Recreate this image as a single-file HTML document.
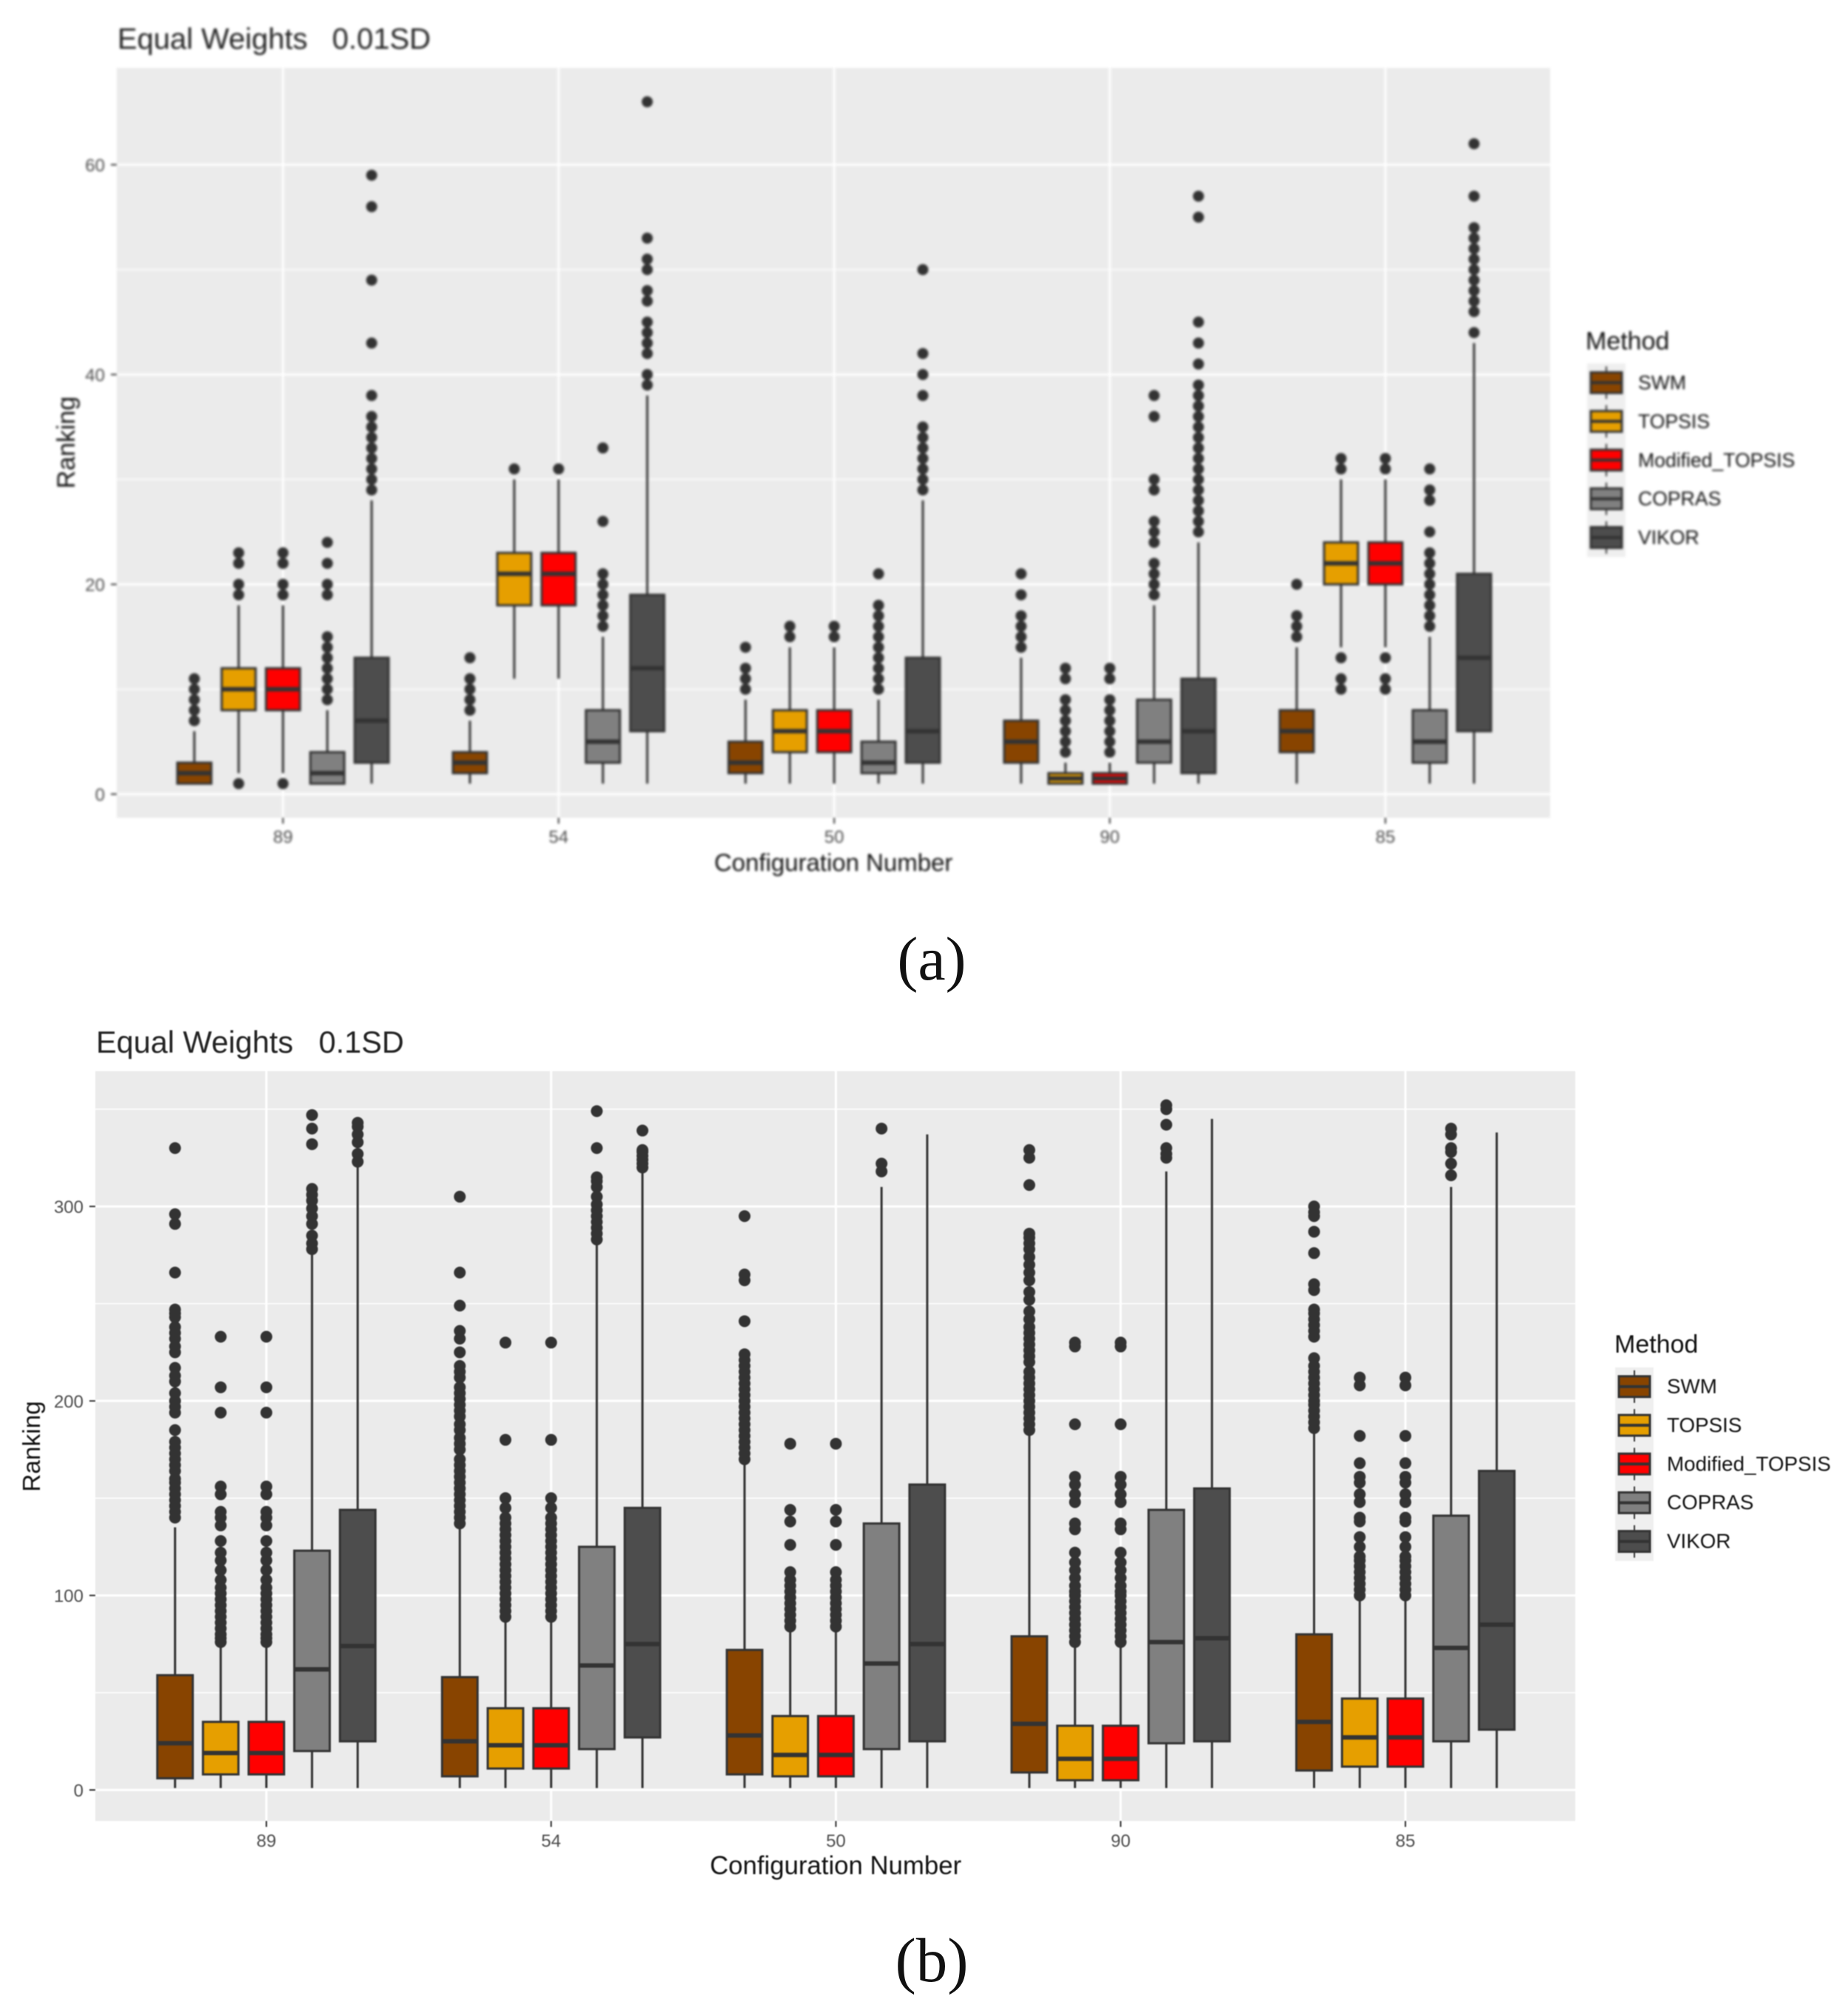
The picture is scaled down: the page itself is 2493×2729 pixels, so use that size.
<!DOCTYPE html>
<html lang="en">
<head>
<meta charset="utf-8">
<title>Equal Weights ranking boxplots</title>
<style>
html,body{margin:0;padding:0;background:#fff;}
body{width:2493px;height:2729px;overflow:hidden;}
svg{display:block;position:absolute;left:0;top:0;}
text{font-family:"Liberation Sans",sans-serif;white-space:pre;}
#chart-a-group{filter:blur(1.5px);}
#chart-b-group{filter:blur(0.9px);}
</style>
</head>
<body>
<svg id="figure" width="2493" height="2729" viewBox="0 0 2493 2729" xmlns="http://www.w3.org/2000/svg">
  <rect x="0" y="0" width="2493" height="2729" fill="#ffffff"/>
  <g id="chart-a-group"></g>
  <g id="chart-b-group"></g>
  <text x="1261" y="1326" text-anchor="middle" style="font-family:'Liberation Serif',serif;font-size:84px;fill:#111">(a)</text>
  <text x="1261" y="2682" text-anchor="middle" style="font-family:'Liberation Serif',serif;font-size:85px;fill:#111">(b)</text>
</svg>
<script>
const categories = ['89','54','50','90','85'];
const methods = ['SWM','TOPSIS','Modified_TOPSIS','COPRAS','VIKOR'];
const methodColors = ['#884400','#E69F00','#FF0000','#808080','#4D4D4D'];

/* Chart (a) Equal Weights 0.01SD — rows: configuration, columns: method */
const majorTicksA = [0,20,40,60];
const minorTicksA = [10,30,50];
const q1A  = [[1,8,8,1,3],[2,18,18,3,6],[2,4,4,2,3],[3,1,1,3,2],[4,20,20,3,6]];
const medA = [[2,10,10,2,7],[3,21,21,5,12],[3,6,6,3,6],[5,1.5,1.5,5,6],[6,22,22,5,13]];
const q3A  = [[3,12,12,4,13],[4,23,23,8,19],[5,8,8,5,13],[7,2,2,9,11],[8,24,24,8,21]];
const loA  = [[1,2,2,1,1],[1,11,11,1,1],[1,1,1,1,1],[1,1,1,1,1],[1,14,14,1,1]];
const hiA  = [[6,18,18,8,28],[7,30,30,15,38],[9,14,14,9,28],[13,3,3,18,24],[14,30,30,15,43]];
const outA = [
  [[7,8,9,10,11],[1,19,20,22,23],[1,19,20,22,23],[9,10,11,12,13,14,15,19,20,22,24],[29,30,31,32,33,34,35,36,38,43,49,56,59]],
  [[8,9,10,11,13],[31],[31],[16,17,18,19,20,21,26,33],[39,40,42,43,44,45,47,48,50,51,53,66]],
  [[10,11,12,14],[15,16],[15,16],[10,11,12,13,14,15,16,17,18,21],[29,30,31,32,33,34,35,38,40,42,50]],
  [[14,15,16,17,19,21],[4,5,6,7,8,9,11,12],[4,5,6,7,8,9,11,12],[19,20,21,22,24,25,26,29,30,36,38],[25,26,27,28,29,30,31,32,33,34,35,36,37,38,39,41,43,45,55,57]],
  [[15,16,17,20],[10,11,13,31,32],[10,11,13,31,32],[16,17,18,19,20,21,22,23,25,28,29,31],[44,46,47,48,49,50,51,52,53,54,57,62]]
];

/* Chart (b) Equal Weights 0.1SD */
const majorTicksB = [0,100,200,300];
const minorTicksB = [50,150,250,350];
const q1B  = [[6,8,8,20,25],[7,11,11,21,27],[8,7,7,21,25],[9,5,5,24,25],[10,12,12,25,31]];
const medB = [[24,19,19,62,74],[25,23,23,64,75],[28,18,18,65,75],[34,16,16,76,78],[35,27,27,73,85]];
const q3B  = [[59,35,35,123,144],[58,42,42,125,145],[72,38,38,137,157],[79,33,33,144,155],[80,47,47,141,164]];
const loB  = [[1,1,1,1,1],[1,1,1,1,1],[1,1,1,1,1],[1,1,1,1,1],[1,1,1,1,1]];
const hiB  = [[135,75,75,275,320],[135,88,88,281,318],[168,83,83,310,337],[183,75,75,318,345],[184,98,98,310,338]];
const outB = [
  [[140,143,146,149,152,155,158,160,164,167,170,173,176,179,185,194,197,200,204,210,213,217,225,228,232,235,238,243,245,247,266,291,296,330],
   [76,78,80,83,86,89,92,95,98,101,104,108,113,118,122,128,136,140,143,152,156,194,207,233],
   [76,78,80,83,86,89,92,95,98,101,104,108,113,118,122,128,136,140,143,152,156,194,207,233],
   [278,281,285,291,295,299,303,306,309,332,340,347],
   [323,327,333,337,341,343]],
  [[137,140,143,146,149,152,155,158,161,164,167,170,175,178,181,185,188,192,195,198,201,204,207,212,215,218,225,232,236,249,266,305],
   [89,92,95,98,101,104,107,110,113,116,119,122,125,128,131,134,137,140,145,150,180,230],
   [89,92,95,98,101,104,107,110,113,116,119,122,125,128,131,134,137,140,145,150,180,230],
   [283,286,289,292,295,298,301,305,310,313,315,330,349],
   [320,322,324,326,328,329,339]],
  [[170,173,176,179,182,185,188,191,194,197,200,203,206,209,212,215,218,221,224,241,262,265,295],
   [84,87,90,93,96,99,102,105,108,112,126,138,144,178],
   [84,87,90,93,96,99,102,105,108,112,126,138,144,178],
   [318,322,340],
   []],
  [[185,188,191,194,197,200,203,206,209,212,215,220,223,226,229,232,235,238,242,246,252,256,262,266,270,274,278,281,284,286,311,325,329],
   [76,79,82,85,88,91,94,97,100,102,105,109,113,117,122,134,137,148,152,157,161,188,228,230],
   [76,79,82,85,88,91,94,97,100,102,105,109,113,117,122,134,137,148,152,157,161,188,228,230],
   [325,327,330,342,350,352],
   []],
  [[186,189,192,195,198,200,203,206,209,212,215,218,222,233,236,239,242,245,247,257,260,276,287,295,297,300],
   [100,103,106,109,112,115,118,120,125,130,138,140,148,152,158,161,168,182,208,212],
   [100,103,106,109,112,115,118,120,125,130,138,140,148,152,158,161,168,182,208,212],
   [316,322,328,330,337,340],
   []]
];

const SVGNS = 'http://www.w3.org/2000/svg';
function el(parent, tag, attrs, txt) {
  const e = document.createElementNS(SVGNS, tag);
  for (const k in attrs) e.setAttribute(k, attrs[k]);
  if (txt !== undefined) e.textContent = txt;
  parent.appendChild(e);
  return e;
}

function drawChart(root, L, title, major, minor, q1, med, q3, lo, hi, out) {
  const yScale = v => L.y0 - v * L.yUnit;
  const xCat = i => L.xFirst + i * L.xStep;
  const xBox = (i, m) => xCat(i) + (m - 2) * L.dodge;

  const titleEl = el(root, 'text', {x: L.titleX, y: L.titleY, 'font-size': L.titleSize, fill: '#222'}, title);
  
  

  const panel = el(root, 'rect', {x: L.left, y: L.top, width: L.right - L.left, height: L.bottom - L.top, fill: '#EBEBEB'});
  
  

  minor.forEach(v => {
    const g = el(root, 'line', {x1: L.left, x2: L.right, y1: yScale(v), y2: yScale(v), stroke: '#fff', 'stroke-width': 1.6});
    
    
  });
  major.forEach(v => {
    const g = el(root, 'line', {x1: L.left, x2: L.right, y1: yScale(v), y2: yScale(v), stroke: '#fff', 'stroke-width': 3});
    
    
    const t = el(root, 'line', {x1: L.left - 8, x2: L.left, y1: yScale(v), y2: yScale(v), stroke: '#333', 'stroke-width': 2});
    
    
    const lab = el(root, 'text', {x: L.left - 16, y: yScale(v) + 9, 'text-anchor': 'end', 'font-size': 24, fill: '#4D4D4D'}, String(v));
    
    
  });
  categories.forEach((c, i) => {
    const g = el(root, 'line', {x1: xCat(i), x2: xCat(i), y1: L.top, y2: L.bottom, stroke: '#fff', 'stroke-width': 3});
    
    
    const t = el(root, 'line', {x1: xCat(i), x2: xCat(i), y1: L.bottom, y2: L.bottom + 8, stroke: '#333', 'stroke-width': 2});
    
    
    const lab = el(root, 'text', {x: xCat(i), y: L.xLabelY, 'text-anchor': 'middle', 'font-size': 24, fill: '#4D4D4D'}, c);
    
    
  });

  categories.forEach((c, i) => {
    methods.forEach((mName, m) => {
      const g = el(root, 'g', {});
      
      
      const x = xBox(i, m);
      const w1 = el(g, 'line', {x1: x, x2: x, y1: yScale(hi[i][m]), y2: yScale(q3[i][m]), stroke: '#333', 'stroke-width': 3});
      
      
      const w2 = el(g, 'line', {x1: x, x2: x, y1: yScale(q1[i][m]), y2: yScale(lo[i][m]), stroke: '#333', 'stroke-width': 3});
      
      
      const box = el(g, 'rect', {x: x - L.boxW / 2, y: yScale(q3[i][m]), width: L.boxW, height: yScale(q1[i][m]) - yScale(q3[i][m]), fill: methodColors[m], stroke: '#333', 'stroke-width': 3});
      
      
      const md = el(g, 'line', {x1: x - L.boxW / 2, x2: x + L.boxW / 2, y1: yScale(med[i][m]), y2: yScale(med[i][m]), stroke: '#333', 'stroke-width': 6});
      
      
      out[i][m].forEach(v => {
        const p = el(g, 'circle', {cx: x, cy: yScale(v), r: L.dotR, fill: '#333'});
        
        
      });
    });
  });

  const xt = el(root, 'text', {x: L.xTitleX, y: L.xTitleY, 'text-anchor': 'middle', 'font-size': L.axisSize, fill: '#111'}, 'Configuration Number');
  
  
  const yt = el(root, 'text', {x: 0, y: 0, 'text-anchor': 'middle', 'font-size': L.yTitleSize, fill: '#111', transform: 'translate(' + L.yTitleX + ',' + L.yTitleY + ') rotate(-90)'}, 'Ranking');
  
  

  const lgTitle = el(root, 'text', {x: L.lgTitleX, y: L.lgTitleY, 'font-size': L.lgTitleSize, fill: '#111'}, 'Method');
  
  
  const keyBg = el(root, 'rect', {x: L.lgX - 26, y: L.lgY - 26, width: 52, height: L.lgStep * 5, fill: '#EFEFEF'});
  
  
  methods.forEach((mName, m) => {
    const cy = L.lgY + m * L.lgStep;
    const g = el(root, 'g', {});
    
    
    const wh = el(g, 'line', {x1: L.lgX, x2: L.lgX, y1: cy - 22, y2: cy + 22, stroke: '#333', 'stroke-width': 2});
    
    
    const r = el(g, 'rect', {x: L.lgX - 21, y: cy - 14, width: 42, height: 28, fill: methodColors[m], stroke: '#333', 'stroke-width': 3});
    
    
    const ml = el(g, 'line', {x1: L.lgX - 21, x2: L.lgX + 21, y1: cy, y2: cy, stroke: '#333', 'stroke-width': 4});
    
    
    const t = el(g, 'text', {x: L.lgLabelX, y: cy + 9, 'font-size': L.lgSize, fill: '#111'}, mName);
    
    
  });
}

drawChart(document.getElementById('chart-a-group'), {
  left: 158, right: 2098, top: 92, bottom: 1107, y0: 1075, yUnit: 14.2,
  xFirst: 383, xStep: 373, dodge: 60, boxW: 46, dotR: 7.5,
  titleX: 159, titleY: 66, titleSize: 40, xLabelY: 1141, xTitleX: 1128, xTitleY: 1179, axisSize: 33,
  yTitleX: 101, yTitleY: 599, yTitleSize: 34, lgTitleX: 2146, lgTitleY: 473, lgTitleSize: 34,
  lgX: 2174, lgY: 518, lgStep: 52.4, lgLabelX: 2217, lgSize: 26.6
}, 'Equal Weights   0.01SD', majorTicksA, minorTicksA, q1A, medA, q3A, loA, hiA, outA);

drawChart(document.getElementById('chart-b-group'), {
  left: 129, right: 2132, top: 1450, bottom: 2465, y0: 2423, yUnit: 2.633,
  xFirst: 360.5, xStep: 385.4, dodge: 61.8, boxW: 48, dotR: 8,
  titleX: 130, titleY: 1425, titleSize: 41.5, xLabelY: 2500, xTitleX: 1131, xTitleY: 2537, axisSize: 34.8,
  yTitleX: 54, yTitleY: 1958, yTitleSize: 33.5, lgTitleX: 2185, lgTitleY: 1831, lgTitleSize: 34,
  lgX: 2212, lgY: 1877, lgStep: 52.4, lgLabelX: 2256, lgSize: 27.8
}, 'Equal Weights   0.1SD', majorTicksB, minorTicksB, q1B, medB, q3B, loB, hiB, outB);
</script>
</body>
</html>
